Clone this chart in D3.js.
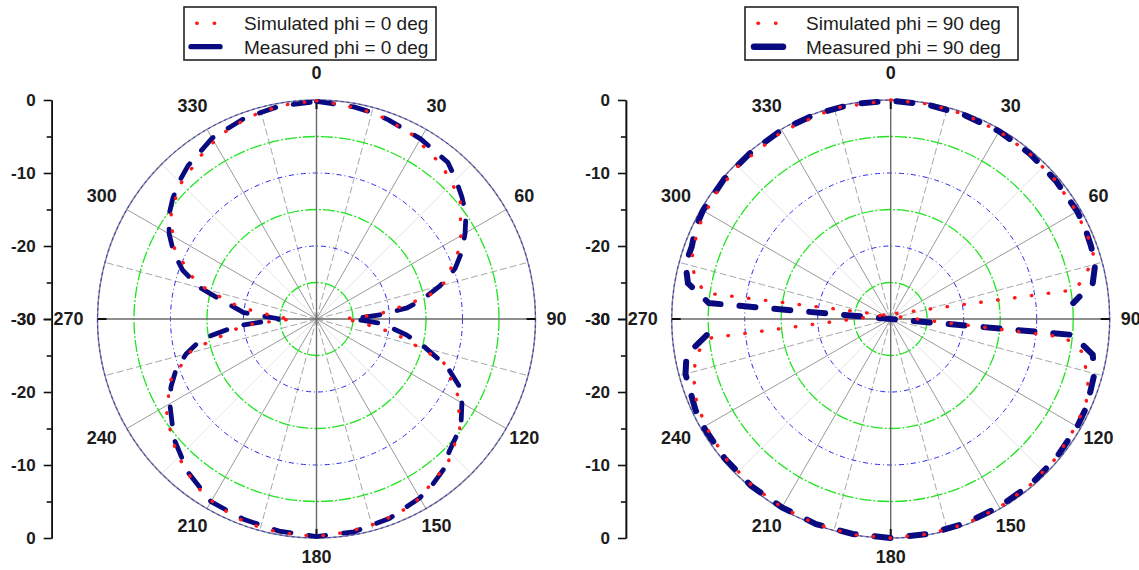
<!DOCTYPE html>
<html>
<head>
<meta charset="utf-8">
<script src="https://cdn.jsdelivr.net/npm/d3@7"></script>
<style>
body { margin: 0; background: #fff; }
text { font-family: "Liberation Sans", Arial, sans-serif; }
</style>
</head>
<body>
<div id="graph"></div>
<script>
let width = 1139;
let height = 570;
let R = 219;

// angular labels, radial axis ticks and grid rings (dB)
const angleLabels = [0, 30, 60, 90, 120, 150, 180, 210, 240, 270, 300, 330];
const radialTicks = [0, -10, -20, -30];
const radialMinor = [-5, -15, -25];
const ringLevels = [-25, -20, -15, -10, -5];

// phi = 0 deg cut
const simAngles0 = [0, 7, 16, 27, 39, 50, 63, 74, 78.5, 83, 86, 90, 94, 98.5, 100, 108.5, 118.6, 127.7, 137.6, 150, 157, 166, 173, 180, 190, 199, 208, 216, 226, 237, 247, 256, 264.8, 266, 270, 273, 278, 280.6, 286.7, 296, 305, 314, 327, 336, 345, 353];
const simDb0 = [-0.1, -0.45, -0.7, -1.5, -2.8, -4.3, -7.8, -11.7, -14.4, -19.4, -21.8, -26.4, -24, -21.7, -19.3, -11.7, -7.9, -5.2, -3.3, -1.7, -1.1, -0.7, -0.5, -0.2, -0.3, -0.45, -1.0, -1.8, -3.4, -5.5, -8.2, -12.4, -19.9, -22.2, -26.8, -24.5, -20.5, -18, -12.8, -8.4, -5.6, -3.8, -2.2, -1.2, -0.6, -0.3];
const measAngles0 = [0, 10, 15, 20, 30, 40, 45, 50, 55, 60, 65, 70, 75, 80, 83, 86, 90, 94, 100, 104, 110, 115, 120, 125, 130, 135, 140, 145, 150, 160, 170, 180, 190, 200, 210, 220, 230, 240, 245, 250, 255, 260, 265, 270, 275, 280, 285, 290, 295, 300, 305, 310, 315, 320, 330, 340, 350];
const measDb0 = [-0.2, -0.5, -0.7, -1.0, -1.5, -2.0, -3.0, -4.0, -5.0, -6.5, -8.0, -9.8, -12.5, -15.5, -17.5, -21, -25, -21, -17.5, -15, -11, -8.5, -7, -5.8, -5, -4.3, -3, -2.3, -1.7, -0.9, -0.4, -0.2, -0.5, -0.8, -1.1, -2.6, -4.5, -6.8, -8, -9.5, -11.5, -14, -19, -25, -20, -17.5, -13.5, -10.5, -8.4, -6.7, -5.3, -4.3, -3.4, -2.6, -1.4, -0.8, -0.4];

// phi = 90 deg cut (points kept in the order they are joined)
const simAngles90 = [0, 10, 20, 30, 40, 50, 60, 69, 73, 78, 81, 264, 260, 254, 247, 240, 230, 220, 210, 200, 190, 180, 170, 160, 150, 140, 130, 120, 113, 108, 100, 96, 278, 282, 286, 291, 296, 305, 315, 330, 345];
const simDb90 = [0, -0.1, -0.2, -0.3, -0.4, -0.5, -0.6, -0.7, -0.9, -2.9, -4.5, -5.3, -3.0, -1.9, -1.1, -0.7, -0.4, -0.3, -0.2, -0.1, 0, 0, -0.1, -0.1, -0.2, -0.3, -0.4, -0.7, -0.9, -1.6, -3.2, -6.0, -4.3, -2.6, -1.6, -1.2, -0.8, -0.5, -0.4, -0.3, -0.1];
const measAngles90 = [265, 260, 255, 250, 245, 240, 230, 220, 210, 200, 190, 180, 170, 160, 150, 140, 130, 120, 115, 110, 105, 100, 95, 275, 280, 285, 290, 295, 300, 310, 320, 330, 340, 350, 0, 10, 20, 30, 40, 50, 60, 65, 70, 75, 80, 85];
const measDb90 = [-4.7, -1.6, -0.9, -0.8, -0.5, -0.4, -0.3, -0.2, -0.2, -0.1, -0.1, 0, -0.1, -0.2, -0.3, -0.3, -0.4, -0.5, -0.6, -0.9, -1.1, -1.9, -5.0, -5.0, -1.8, -0.9, -1.0, -0.5, -0.3, -0.2, -0.2, -0.1, -0.1, -0.1, -0.1, -0.2, -0.3, -0.3, -0.4, -0.5, -0.5, -0.6, -0.8, -1.0, -1.9, -4.9];

const legend0 = ["Simulated phi = 0 deg", "Measured phi = 0 deg"];
const legend90 = ["Simulated phi = 90 deg", "Measured phi = 90 deg"];

let red = "#ff1a1a";
let navy = "#0a0a80";

let svg = d3.select('#graph')
    .append('svg')
        .attr('width', width)
        .attr('height', height)
        .style('background', '#fff');

let r = d3.scaleLinear().domain([-30, 0]).range([0, R]);
let rad = a => a * Math.PI / 180;

function polar(cx, cy, sim, meas, measClosed, navyWidth, legend, box) {
    let g = svg.append('g').attr('transform', 'translate(' + cx + ',' + cy + ')');

    // spokes every 15 deg
    d3.range(0, 360, 15).forEach(function(a) {
        if (a % 90 == 0) return;
        let line = g.append('line')
            .attr('x1', 0).attr('y1', 0)
            .attr('x2', R * Math.sin(rad(a)))
            .attr('y2', -R * Math.cos(rad(a)))
            .attr('stroke-width', 1);
        if (a % 30 == 0) line.attr('stroke', '#9a9a9a');
        else if (a % 45 == 0) line.attr('stroke', '#e4e4e4');
        else line.attr('stroke', '#a8a8a8').attr('stroke-dasharray', '7,3');
    });

    // rings
    ringLevels.forEach(function(v) {
        let green = (v == -25 || v == -15 || v == -5);
        g.append('circle')
            .attr('r', r(v))
            .attr('fill', 'none')
            .attr('stroke', green ? '#1fe41f' : '#2a2aee')
            .attr('stroke-width', green ? 1.3 : 1)
            .attr('stroke-dasharray', green ? '12,2,2,2' : '5,3,1,3');
    });

    // outer circle
    g.append('circle').attr('r', R).attr('fill', 'none')
        .attr('stroke', '#8c8c98').attr('stroke-width', 1.5);
    g.append('circle').attr('r', R).attr('fill', 'none')
        .attr('stroke', '#3030c8').attr('stroke-width', 1).attr('stroke-dasharray', '3,3');

    // main axes
    g.append('line').attr('x1', -R).attr('x2', R).attr('y1', 0).attr('y2', 0)
        .attr('stroke', '#6a6a6a').attr('stroke-width', 1.4);
    g.append('line').attr('y1', -R).attr('y2', R).attr('x1', 0).attr('x2', 0)
        .attr('stroke', '#6a6a6a').attr('stroke-width', 1.4);
    [0, 90, 180, 270].forEach(function(a) {
        g.append('line')
            .attr('x1', R * Math.sin(rad(a))).attr('y1', -R * Math.cos(rad(a)))
            .attr('x2', (R - 9) * Math.sin(rad(a))).attr('y2', -(R - 9) * Math.cos(rad(a)))
            .attr('stroke', '#111').attr('stroke-width', 2);
    });

    // curves
    let lineClosed = d3.lineRadial()
        .angle(d => rad(d[0]))
        .radius(d => r(d[1]))
        .curve(d3.curveLinearClosed);
    let lineOpen = d3.lineRadial()
        .angle(d => rad(d[0]))
        .radius(d => r(d[1]))
        .curve(d3.curveLinear);

    g.append('path')
        .attr('d', (measClosed ? lineClosed : lineOpen)(meas))
        .style('fill', 'none')
        .attr('stroke', navy)
        .attr('stroke-width', navyWidth)
        .attr('stroke-linecap', 'round')
        .attr('stroke-dasharray', (22 - navyWidth) + ',' + (13 + navyWidth));

    g.append('path')
        .attr('d', lineClosed(sim))
        .style('fill', 'none')
        .attr('stroke', red)
        .attr('stroke-width', 3.4)
        .attr('stroke-linecap', 'round')
        .attr('stroke-dasharray', '0.5,16.5');

    // angle labels (left side ones sit a bit further out)
    angleLabels.forEach(function(a) {
        let s = Math.sin(rad(a));
        let c = Math.cos(rad(a));
        g.append('text')
            .attr('x', (s < -0.1 ? 248 : 240) * s)
            .attr('y', -242 * c - 4 * Math.abs(c))
            .attr('dy', '0.36em')
            .attr('text-anchor', 'middle')
            .style('font-size', '18px')
            .style('font-weight', 'bold')
            .attr('fill', '#1c1c1c')
            .text(a);
    });

    // radial axis on the left
    let ax = svg.append('g').attr('transform', 'translate(' + (cx - 264.8) + ',' + cy + ')');
    let yTop = d3.scaleLinear().domain([0, -30]).range([-R, 0]);
    let yBot = d3.scaleLinear().domain([-30, 0]).range([0, R]);
    [yTop, yBot].forEach(function(s) {
        ax.append('g')
            .call(d3.axisLeft(s).tickValues(radialMinor).tickSize(5).tickSizeOuter(0).tickFormat(''));
        ax.append('g')
            .call(d3.axisLeft(s).tickValues(radialTicks).tickSize(8).tickSizeOuter(0).tickPadding(8).tickFormat(d => String(d)));
    });
    ax.selectAll('path, line').attr('stroke', '#111').attr('stroke-width', 1.6);
    ax.selectAll('text')
        .style('font-size', '17px')
        .style('font-weight', 'bold')
        .style('font-family', '"Liberation Sans", Arial, sans-serif')
        .attr('fill', '#1c1c1c');

    // legend
    let lg = svg.append('g');
    lg.append('rect')
        .attr('x', box.x).attr('y', 7)
        .attr('width', box.w).attr('height', 53)
        .attr('fill', '#fff').attr('stroke', '#222').attr('stroke-width', 1.6);
    lg.append('line')
        .attr('x1', box.dot).attr('x2', box.dot + 35).attr('y1', 23.3).attr('y2', 23.3)
        .attr('stroke', red).attr('stroke-width', 3.4)
        .attr('stroke-linecap', 'round').attr('stroke-dasharray', '0.5,17');
    lg.append('line')
        .attr('x1', box.dash).attr('x2', box.dash + 29).attr('y1', 46.7).attr('y2', 46.7)
        .attr('stroke', navy).attr('stroke-width', navyWidth + 0.5)
        .attr('stroke-linecap', 'round');
    legend.forEach(function(t, i) {
        lg.append('text')
            .attr('x', box.text).attr('y', 29.5 + i * 24)
            .style('font-size', '19px')
            .attr('fill', '#1c1c1c')
            .text(t);
    });
}

polar(316.5, 319, d3.zip(simAngles0, simDb0), d3.zip(measAngles0, measDb0), true, 4.8, legend0,
    {x: 184, w: 252, dot: 196.7, dash: 191, text: 244});
polar(890.7, 319, d3.zip(simAngles90, simDb90), d3.zip(measAngles90, measDb90), false, 6, legend90,
    {x: 745, w: 273, dot: 758, dash: 754, text: 806});
</script>
</body>
</html>
